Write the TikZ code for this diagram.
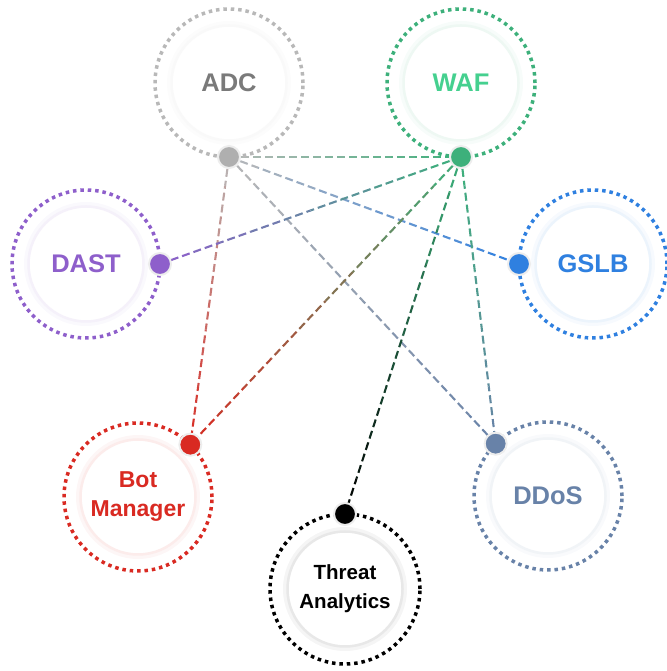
\documentclass[tikz,border=0pt]{standalone}
\usepackage{fontspec}
\setmainfont{Liberation Sans}
\usepackage{xcolor}
\usepackage{tikz}
\usetikzlibrary{calc,backgrounds}

\definecolor{adcC}{HTML}{B8B8B8}
\definecolor{adcT}{HTML}{7A7A7A}
\definecolor{wafC}{HTML}{3DB07B}
\definecolor{wafT}{HTML}{45D08F}
\definecolor{dastC}{HTML}{8E5FCB}
\definecolor{gslbC}{HTML}{2F80E0}
\definecolor{botC}{HTML}{D92A22}
\definecolor{ddosC}{HTML}{6882A8}
\definecolor{threatC}{HTML}{000000}

% dashed link whose colour runs from #3 (at #1) to #4 (at #2)
\newcommand{\gradlink}[4]{%
  \path let \p1=($(#2)-(#1)$), \n1={veclen(\x1,\y1)} in \pgfextra{\xdef\linklen{\n1}};
  \foreach \i in {0,...,9}{
    \pgfmathsetmacro\ph{\linklen*\i/10}
    \pgfmathsetmacro\pc{100*(\i+0.5)/10}
    \pgfmathsetmacro\ta{\i/10}
    \pgfmathsetmacro\tb{(\i+1)/10}
    \draw[link, draw=#4!\pc!#3, dash phase=\ph pt] ($(#1)!\ta!(#2)$) -- ($(#1)!\tb!(#2)$);
  }%
}

\begin{document}
\begin{tikzpicture}[
    x=1pt, y=1pt,
    core/.style = {circle, fill=white, draw=#1!9, line width=2.5pt,
      preaction={draw=#1!4, line width=9pt},
      minimum size=115pt, inner sep=0pt, align=center,
      font=\bfseries\fontsize{25.5}{29}\selectfont},
    ring/.style = {draw=#1, line width=3.5pt, dash pattern=on 3.5pt off 3.9pt},
    hub/.style = {circle, fill=#1, draw=black!7, line width=2pt,
      minimum size=22pt, inner sep=0pt},
    link/.style = {line width=2.1pt, dash pattern=on 8pt off 4pt}
  ]
    \useasboundingbox (0,0) rectangle (666,671);

    % services
    \node[core=adcC, text=adcT] (adc) at (229,588) {ADC};
    \node[core=wafC, text=wafT] (waf) at (461,588) {WAF};
    \node[core=dastC, text=dastC] (dast) at (86,407) {DAST};
    \node[core=gslbC, text=gslbC] (gslb) at (593,407) {GSLB};
    \node[core=botC, text=botC, font=\bfseries\fontsize{23}{29}\selectfont] (bot) at (138,174) {Bot\\Manager};
    \node[core=ddosC, text=ddosC] (ddos) at (548,175) {DDoS};
    \node[core=threatC, text=threatC, font=\bfseries\fontsize{20.5}{29}\selectfont] (threat) at (345,82) {Threat\\Analytics};

    % dotted rings
    \draw[ring=adcC] (adc.center) circle (74);
    \draw[ring=wafC] (waf.center) circle (74);
    \draw[ring=dastC] (dast.center) circle (74);
    \draw[ring=gslbC] (gslb.center) circle (74);
    \draw[ring=botC] (bot.center) circle (74);
    \draw[ring=ddosC] (ddos.center) circle (74);
    \draw[ring=threatC] (threat.center) circle (75);

    % hubs on the rings
    \node[hub=adcC!95!black] (adc-hub) at ($(adc.center)+(270:74)$) {};
    \node[hub=wafC] (waf-hub) at ($(waf.center)+(270:74)$) {};
    \node[hub=dastC] (dast-hub) at ($(dast.center)+(0:74)$) {};
    \node[hub=gslbC] (gslb-hub) at ($(gslb.center)+(180:74)$) {};
    \node[hub=botC] (bot-hub) at ($(bot.center)+(45:74)$) {};
    \node[hub=ddosC] (ddos-hub) at ($(ddos.center)+(135:74)$) {};
    \node[hub=threatC] (threat-hub) at ($(threat.center)+(90:75)$) {};

    % links
    \begin{pgfonlayer}{background}
      \gradlink{adc-hub}{waf-hub}{adcC}{wafC}
      \gradlink{adc-hub}{gslb-hub}{adcC}{gslbC}
      \gradlink{adc-hub}{ddos-hub}{adcC}{ddosC}
      \gradlink{adc-hub}{bot-hub}{adcC}{botC}
      \gradlink{waf-hub}{dast-hub}{wafC}{dastC}
      \gradlink{waf-hub}{bot-hub}{wafC}{botC}
      \gradlink{waf-hub}{threat-hub}{wafC}{threatC}
      \gradlink{waf-hub}{ddos-hub}{wafC}{ddosC}
    \end{pgfonlayer}
\end{tikzpicture}
\end{document}
